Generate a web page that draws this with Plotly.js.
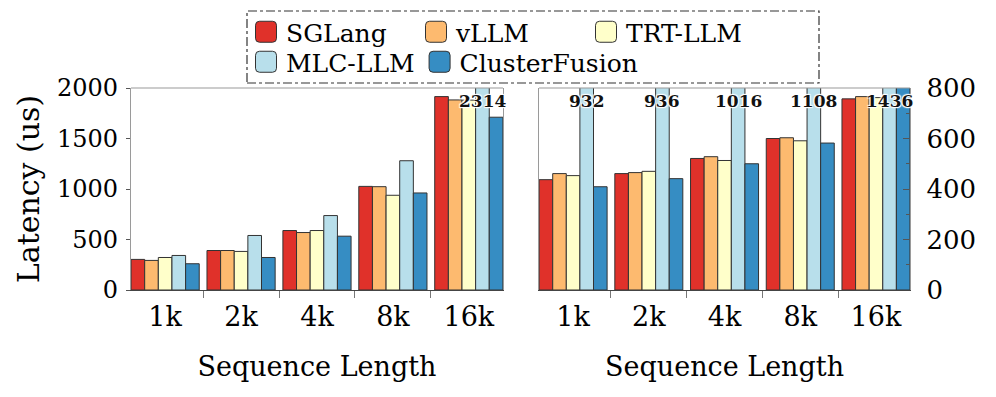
<!DOCTYPE html>
<html>
<head>
<meta charset="utf-8">
<script src="https://cdn.plot.ly/plotly-3.0.1.min.js"></script>
<style>
  body { margin: 0; background: #fff; }
  #plot { width: 996px; height: 397px; }
</style>
</head>
<body>
<div id="plot"></div>
<script>
// Sequence lengths on the x axis
var seqLens = ["1k", "2k", "4k", "8k", "16k"];

// Left panel latency (us)
var sglangL = [303, 391, 589, 1026, 1915];
var vllmL = [293, 391, 569, 1023, 1882];
var trtL = [322, 382, 589, 938, 1880];
var mlcL = [342, 540, 737, 1280, 2314];
var cfL = [260, 322, 533, 961, 1711];

// Right panel latency (us)
var sglangR = [437, 461, 521, 600, 757];
var vllmR = [461, 465, 528, 603, 766];
var trtR = [453, 470, 513, 591, 762];
var mlcR = [932, 936, 1016, 1108, 1436];
var cfR = [409, 441, 500, 582, 812];

var names = ["SGLang", "vLLM", "TRT-LLM", "MLC-LLM", "ClusterFusion"];
var colors = ["#e0312a", "#fdba6f", "#ffffca", "#b8dfeb", "#368dc3"];
var legendOf = ["legend", "legend", "legend", "legend2", "legend2"];
var leftSeries = [sglangL, vllmL, trtL, mlcL, cfL];
var rightSeries = [sglangR, vllmR, trtR, mlcR, cfR];

var leftMax = 2000, rightMax = 800;
var font = "DejaVu Serif";

var data = [];
names.forEach(function(n, i) {
  data.push({
    x: seqLens, y: leftSeries[i], type: "bar", name: n,
    marker: {color: colors[i], line: {color: "#333", width: 1}},
    xaxis: "x", yaxis: "y", legend: legendOf[i]
  });
});
names.forEach(function(n, i) {
  data.push({
    x: seqLens, y: rightSeries[i], type: "bar", name: n, showlegend: false,
    marker: {color: colors[i], line: {color: "#333", width: 1}},
    xaxis: "x2", yaxis: "y2"
  });
});

// value labels for the clipped MLC-LLM bars
var barOffset = 0.18;
var annotations = [];
function addLabels(vals, max, xr, yr) {
  vals.forEach(function(v, i) {
    if (v > max) {
      annotations.push({
        x: i + barOffset, y: max, xref: xr, yref: yr,
        text: String(v), showarrow: false, yanchor: "top", yshift: -1,
        font: {family: font, size: 17, weight: "bold", color: "#111",
               shadow: "1px 1px 1px #fff, -1px -1px 1px #fff, 1px -1px 1px #fff, -1px 1px 1px #fff"}
      });
    }
  });
}
addLabels(mlcL, leftMax, "x", "y");
addLabels(mlcR, rightMax, "x2", "y2");

var xCommon = {
  type: "category", range: [-0.45, 4.45], tickson: "boundaries",
  ticks: "outside", ticklen: 7, tickcolor: "#777", tickwidth: 1,
  showline: true, linecolor: "#444", linewidth: 1.2,
  showgrid: false, zeroline: false, automargin: false,
  tickfont: {family: font, size: 27, color: "#000"},
  ticklabelstandoff: 2
};

var layout = {
  width: 996, height: 397,
  margin: {l: 0, r: 0, t: 0, b: 0},
  paper_bgcolor: "#fff", plot_bgcolor: "#fff",
  barmode: "group", bargap: 0.102, bargroupgap: 0,
  xaxis: Object.assign({}, xCommon, {
    domain: [0.1315, 0.505], anchor: "y",
    title: {text: "Sequence Length", font: {family: font, size: 27, color: "#000"}, standoff: 26}
  }),
  xaxis2: Object.assign({}, xCommon, {
    domain: [0.5412, 0.9137], anchor: "y2",
    title: {text: "Sequence Length", font: {family: font, size: 27, color: "#000"}, standoff: 26}
  }),
  yaxis: {
    domain: [0.2695, 0.7783], anchor: "x", range: [0, leftMax],
    tickvals: [0, 500, 1000, 1500, 2000],
    ticks: "outside", ticklen: 4, tickcolor: "#555",
    showline: true, linecolor: "#9a9a9a", linewidth: 1.2, mirror: true,
    showgrid: false, zeroline: false, automargin: false,
    tickfont: {family: font, size: 24, color: "#000"},
    ticklabelstandoff: 3,
    title: {text: "Latency (us)", font: {family: font, size: 30, color: "#000"}, standoff: 8}
  },
  yaxis2: {
    domain: [0.2695, 0.7783], anchor: "x2", side: "right", range: [0, rightMax],
    tickvals: [0, 200, 400, 600, 800],
    ticks: "inside", ticklen: 7, tickcolor: "#555",
    minor: {dtick: 100, ticks: "inside", ticklen: 4, tickcolor: "#555"},
    showline: true, linecolor: "#9a9a9a", linewidth: 1.2, mirror: true,
    showgrid: false, zeroline: false, automargin: false,
    tickfont: {family: font, size: 26, color: "#000"},
    ticklabelstandoff: 10
  },
  legend: {
    orientation: "h", x: 246 / 996, xanchor: "left", y: 1 - 32 / 397, yanchor: "middle",
    entrywidth: 125, font: {family: font, size: 25, color: "#000"},
    bgcolor: "rgba(0,0,0,0)", borderwidth: 0, traceorder: "normal"
  },
  legend2: {
    orientation: "h", x: 246 / 996, xanchor: "left", y: 1 - 62 / 397, yanchor: "middle",
    font: {family: font, size: 25, color: "#000"},
    bgcolor: "rgba(0,0,0,0)", borderwidth: 0, traceorder: "normal"
  },
  shapes: [
    // dash-dot frame around the legend
    {type: "rect", xref: "paper", yref: "paper",
     x0: 247 / 996, x1: 819 / 996, y0: 1 - 83 / 397, y1: 1 - 11 / 397,
     line: {color: "#333", width: 1.2, dash: "dashdot"}},
    // top borders of the two panels
    {type: "line", xref: "x domain", yref: "y domain", x0: 0, x1: 1, y0: 1, y1: 1,
     line: {color: "#9a9a9a", width: 1.2}},
    {type: "line", xref: "x2 domain", yref: "y2 domain", x0: 0, x1: 1, y0: 1, y1: 1,
     line: {color: "#9a9a9a", width: 1.2}}
  ],
  annotations: annotations,
  showlegend: true
};

Plotly.newPlot("plot", data, layout, {displayModeBar: false, staticPlot: true}).then(function(gd) {
  // bigger rounded legend swatches
  var rr = "M-6.5,-10.5H6.5A4,4 0 0 1 10.5,-6.5V6.5A4,4 0 0 1 6.5,10.5H-6.5A4,4 0 0 1 -10.5,6.5V-6.5A4,4 0 0 1 -6.5,-10.5Z";
  gd.querySelectorAll(".legendpoints path").forEach(function(p) {
    p.setAttribute("d", rr);
  });
});
</script>
</body>
</html>
